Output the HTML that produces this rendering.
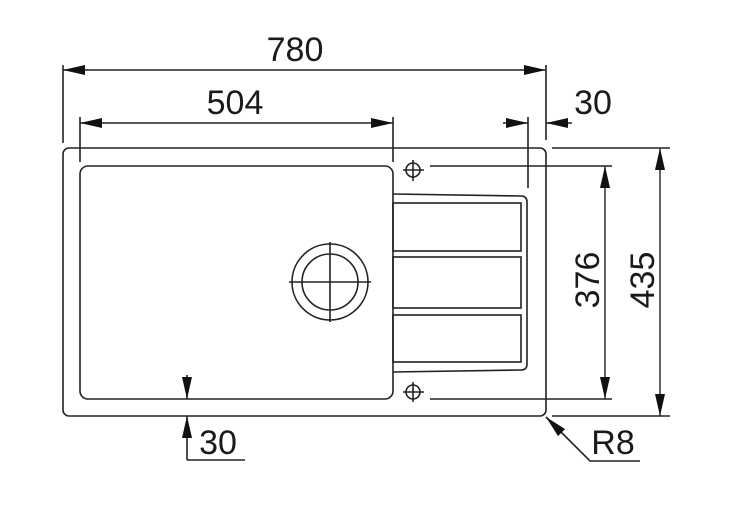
<!DOCTYPE html><html><head><style>body{margin:0;background:#fff}svg{display:block}text{font-family:"Liberation Sans",Arial,sans-serif;font-size:34px;fill:#1a1a1a}</style></head><body>
<svg width="756" height="515" viewBox="0 0 756 515" xmlns="http://www.w3.org/2000/svg">
<defs><marker id="a" viewBox="0 0 22 10" refX="22" refY="5" markerWidth="22" markerHeight="10" markerUnits="userSpaceOnUse" orient="auto"><path d="M0,0L22,5L0,10z" fill="#111"/></marker></defs>
<g stroke="#222" stroke-width="1.6" fill="none">
<rect x="63" y="148" width="483" height="268" rx="6"/>
<rect x="80" y="166" width="313" height="233" rx="8"/>
<path d="M393,194 L521,196 Q527,196 527,202 L527,364 Q527,370 521,370 L393,372"/>
<rect x="393" y="203" width="128" height="48"/>
<rect x="393" y="257" width="128" height="51"/>
<rect x="393" y="315" width="128" height="47"/>
<circle cx="413" cy="170" r="7"/><path d="M403,170H424M413,160V181"/>
<circle cx="413" cy="392" r="7"/><path d="M403,392H424M413,382V402"/>
<circle cx="330" cy="282" r="38"/><circle cx="330" cy="282" r="28"/>
<path d="M289,282H371M330,242V322"/>
<path d="M63,65V143M546,65V140M80,117V162M393,117V162M528,117V188"/>
<path d="M552,148H670M430,166H612M430,399H612M552,416H670"/>
<path d="M187,375V399" marker-end="url(#a)"/>
<path d="M187,460V416" marker-end="url(#a)"/>
<path d="M187,460H245"/>
<path d="M640,461H590L546,417" marker-end="url(#a)"/>
</g>
<g stroke="#222" stroke-width="1.4" fill="none">
<path d="M305,70H63" marker-end="url(#a)"/><path d="M305,70H546" marker-end="url(#a)"/>
<path d="M236,123H80" marker-end="url(#a)"/><path d="M236,123H393" marker-end="url(#a)"/>
<path d="M503,123H528" marker-end="url(#a)"/><path d="M572,123H546" marker-end="url(#a)"/>
<path d="M605,280V166" marker-end="url(#a)"/><path d="M605,280V399" marker-end="url(#a)"/>
<path d="M660,280V148" marker-end="url(#a)"/><path d="M660,280V416" marker-end="url(#a)"/>
</g>
<text x="295" y="61" text-anchor="middle">780</text>
<text x="235" y="114" text-anchor="middle">504</text>
<text x="593" y="114" text-anchor="middle">30</text>
<text x="218" y="454" text-anchor="middle">30</text>
<text x="613" y="454" text-anchor="middle">R8</text>
<text transform="translate(599,280) rotate(-90)" text-anchor="middle">376</text>
<text transform="translate(654,280) rotate(-90)" text-anchor="middle">435</text>
</svg></body></html>
